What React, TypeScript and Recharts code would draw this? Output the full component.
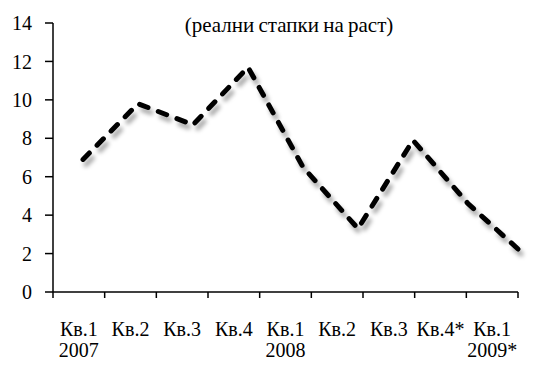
import React from 'react';
import { LineChart, Line, XAxis, YAxis } from 'recharts';

const quarters = ['Кв.1', 'Кв.2', 'Кв.3', 'Кв.4', 'Кв.1', 'Кв.2', 'Кв.3', 'Кв.4*', 'Кв.1'];
const years = ['2007', '', '', '', '2008', '', '', '', '2009*'];
const growth = [6.9, 9.8, 8.7, 11.7, 6.5, 3.3, 7.9, 4.6, 2.0];
const yTicks = [0, 2, 4, 6, 8, 10, 12, 14];

const data = growth.map((v, i) => ({ id: i, v }));

const font = 'Liberation Serif, Times New Roman, serif';

// label in the middle of each band, tick marks on the band edges
const XTick = (props: any) => {
    const { x, y, index, width, visibleTicksCount } = props;
    const band = width / visibleTicksCount;
    const left = x - band / 2;
    const right = x + band / 2;
    return (
        <g>
            <line x1={left} x2={left} y1={y} y2={y + 6} stroke="#000" strokeWidth={1.5} />
            {index === visibleTicksCount - 1 && (
                <line x1={right} x2={right} y1={y} y2={y + 6} stroke="#000" strokeWidth={1.5} />
            )}
            <text x={x} y={y} textAnchor="middle" fontFamily={font} fontSize={20} fill="#000">
                <tspan x={x} dy={44}>{quarters[index]}</tspan>
                {years[index] && <tspan x={x} dy={21}>{years[index]}</tspan>}
            </text>
        </g>
    );
};

export default function App() {
    return (
        <div style={{ position: 'relative', width: 555, height: 365, margin: -8, background: '#fff', fontFamily: font }}>
            <div style={{ position: 'absolute', left: 0, width: 578, top: 14, textAlign: 'center', fontSize: 21, lineHeight: '22px', wordSpacing: -1 }}>
                (реални стапки на раст)
            </div>
            <LineChart width={555} height={365} data={data} margin={{ top: 23, right: 37, bottom: 0, left: 0 }}>
                <defs>
                    <filter id="sh" x="-10%" y="-10%" width="130%" height="140%">
                        <feDropShadow dx={3} dy={5} stdDeviation={2} floodColor="#000" floodOpacity={0.35} />
                    </filter>
                    <clipPath id="titleClip">
                        <rect x={0} y={0} width={555} height={6} />
                    </clipPath>
                </defs>
                {/* title is cut off at the top edge and just under its baseline, as in the original */}
                <text x={283} y={6} textAnchor="middle" fontFamily={font} fontWeight="bold" fontSize={22} fill="#000" clipPath="url(#titleClip)">
                    Лична потрошувачка
                </text>
                <XAxis
                    xAxisId="axis"
                    dataKey="id"
                    type="category"
                    scale="band"
                    interval={0}
                    tickLine={false}
                    tickSize={0}
                    tickMargin={0}
                    height={73}
                    axisLine={{ stroke: '#000', strokeWidth: 1.5 }}
                    tick={XTick}
                />
                <XAxis xAxisId="line" dataKey="id" type="category" hide padding={{ left: 30, right: -5 }} />
                <YAxis
                    domain={[0, 14]}
                    ticks={yTicks}
                    interval={0}
                    width={53}
                    tickSize={8}
                    tickMargin={13}
                    axisLine={{ stroke: '#000', strokeWidth: 1.5 }}
                    tickLine={{ stroke: '#000', strokeWidth: 1.5 }}
                    tick={{ fill: '#000', fontFamily: font, fontSize: 20 }}
                />
                <Line
                    xAxisId="line"
                    dataKey="v"
                    type="linear"
                    stroke="#000"
                    strokeWidth={5}
                    strokeDasharray="9 11"
                    strokeLinecap="round"
                    strokeLinejoin="round"
                    filter="url(#sh)"
                    dot={false}
                    activeDot={false}
                    isAnimationActive={false}
                />
            </LineChart>
        </div>
    );
}
